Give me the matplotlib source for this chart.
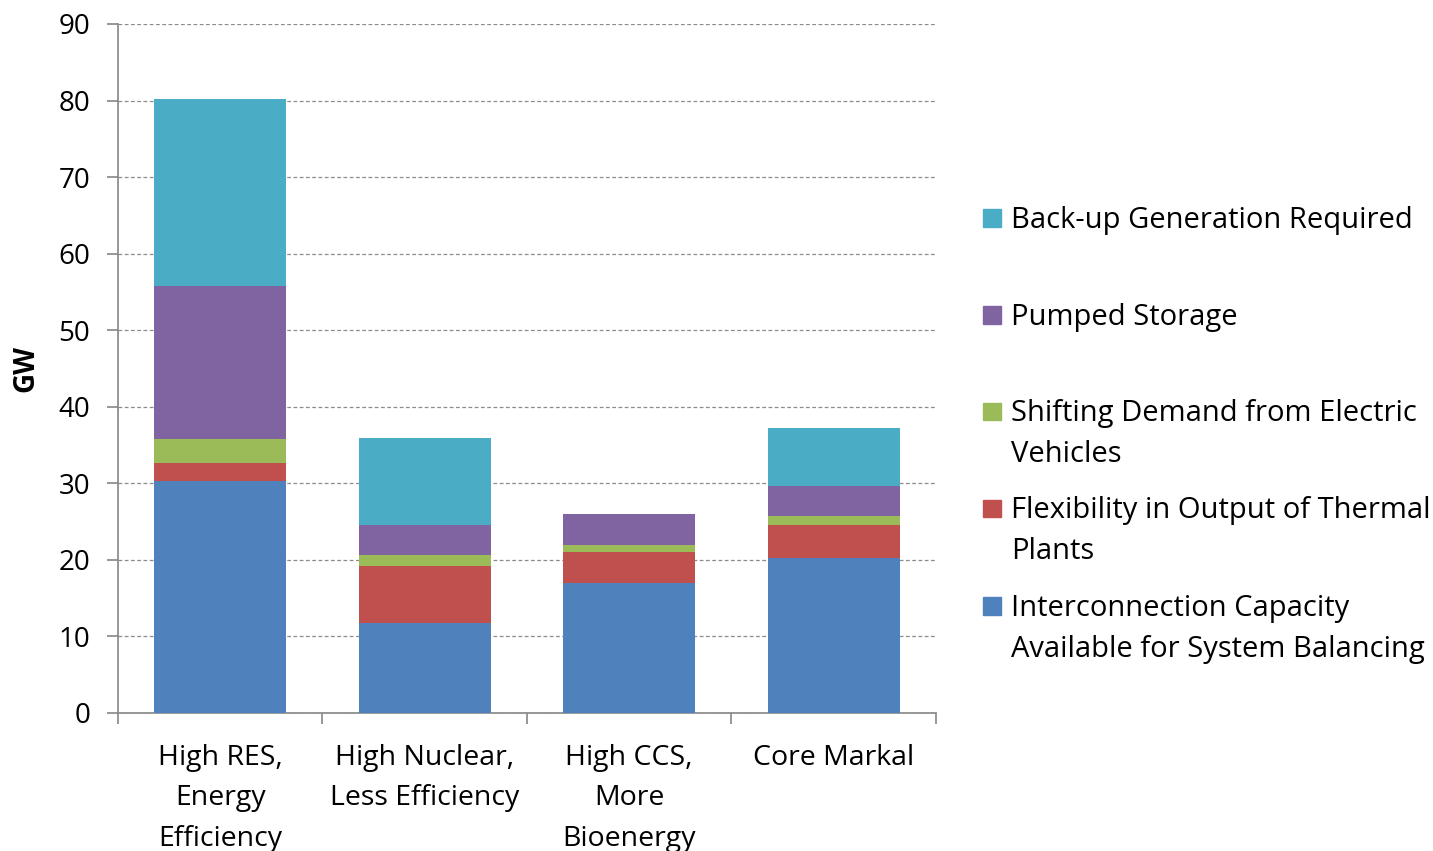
import numpy as np
import matplotlib.pyplot as plt
from matplotlib.patches import Rectangle

plt.rcParams['font.family'] = ['Open Sans', 'DejaVu Sans']

scenarios = ['High RES,\nEnergy\nEfficiency', 'High Nuclear,\nLess Efficiency',
             'High CCS,\nMore\nBioenergy', 'Core Markal']

# stacked from the bottom up (GW)
interconnection = [30.3, 11.75, 17.0, 20.3]
thermal_flex = [2.3, 7.5, 4.0, 4.3]
ev_demand = [3.2, 1.35, 1.0, 1.1]
pumped_storage = [20.0, 4.0, 4.0, 4.0]
backup_gen = [24.4, 11.3, 0.0, 7.5]

series = [
    ('Interconnection Capacity\nAvailable for System Balancing', interconnection, '#4F81BD'),
    ('Flexibility in Output of Thermal\nPlants', thermal_flex, '#C0504D'),
    ('Shifting Demand from Electric\nVehicles', ev_demand, '#9BBB59'),
    ('Pumped Storage', pumped_storage, '#8064A2'),
    ('Back-up Generation Required', backup_gen, '#4BACC6'),
]

fig = plt.figure(figsize=(14.33, 8.51), dpi=100)
ax = fig.add_axes([0.0823, 0.1622, 0.5708, 0.8096])

x = np.arange(len(scenarios))
bottom = np.zeros(len(scenarios))
for name, vals, col in series:
    vals = np.array(vals)
    ax.bar(x, vals, width=0.645, bottom=bottom, color=col, zorder=3)
    bottom += vals

ax.set_xlim(-0.5, len(scenarios) - 0.5)
ax.set_ylim(0, 90)
ax.set_yticks(np.arange(0, 91, 10))
ax.yaxis.grid(True, linestyle=(0, (3, 2)), color='#8c8c8c', linewidth=0.9, zorder=0)

for s in ['top', 'right']:
    ax.spines[s].set_visible(False)
for s in ['left', 'bottom']:
    ax.spines[s].set_color('#868686')
    ax.spines[s].set_linewidth(1.2)

# category labels between boundary ticks
ax.set_xticks(np.arange(-0.5, len(scenarios), 1.0))
ax.set_xticklabels([])
ax.set_xticks(x, minor=True)
ax.set_xticklabels(scenarios, minor=True, fontsize=20.5, linespacing=1.6, va='top')
ax.tick_params(axis='x', which='minor', length=0, pad=22)
ax.tick_params(axis='x', which='major', length=8, color='#868686', width=1.2)
ax.tick_params(axis='y', length=8, color='#868686', width=1.2, labelsize=20, pad=12)

ax.set_ylabel('GW', fontsize=20, fontweight='bold')
ax.yaxis.set_label_coords(-0.095, 0.5)

# legend, evenly spaced entries, top series first
ys = [0.741, 0.627, 0.514, 0.400, 0.285]
for (name, vals, col), yy in zip(series[::-1], ys):
    fig.add_artist(Rectangle((0.686, yy - 0.008), 0.0125, 0.021,
                             transform=fig.transFigure, color=col))
    fig.text(0.7055, yy + 0.0175, name, fontsize=21, va='top', ha='left',
             linespacing=1.55)

fig.savefig('out.png', dpi=100)
